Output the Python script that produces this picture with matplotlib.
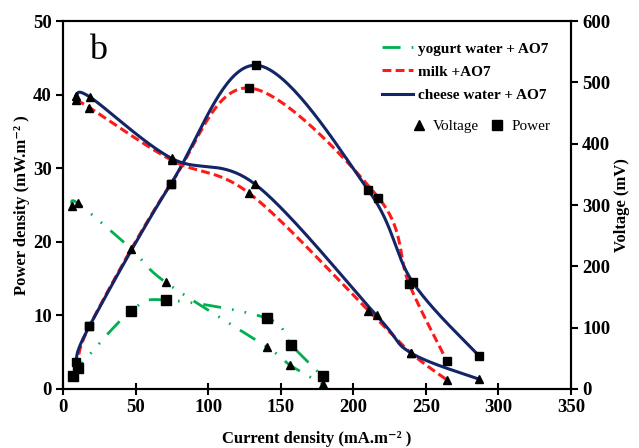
#!/usr/bin/env python3
"""Power density and voltage vs current density for the three MFC substrates."""
import matplotlib
matplotlib.use('Agg')
import matplotlib.pyplot as plt
import numpy as np
from matplotlib.lines import Line2D

# power density curves (mW.m-2) vs current density (mA.m-2)
yog_pow_x = [6.7, 10.5, 46.8, 71.0, 140.8, 157.1, 178.9]
yog_pow_y = [1.8, 2.9, 10.6, 12.1, 9.6, 6.0, 1.7]
milk_pow_x = [10.5, 18.1, 74.4, 128.4, 217.3, 238.4, 264.4]
milk_pow_y = [2.9, 8.5, 27.9, 40.9, 26.0, 14.3, 3.85]
chz_pow_x = [8.7, 18.1, 74.4, 132.9, 210.4, 241.0, 286.6]
chz_pow_y = [3.7, 8.5, 27.9, 44.0, 27.0, 14.5, 4.5]

# voltage curves (mV)
yog_v_x = [6.4, 10.1, 46.8, 70.7, 140.8, 156.4, 178.9]
yog_v_y = [298, 303, 229, 174, 68, 39, 8]
milk_v_x = [9.0, 18.1, 74.9, 128.4, 210.4, 239.6, 264.4]
milk_v_y = [471, 459, 373, 319, 128, 59, 15]
chz_v_x = [9.0, 18.6, 74.9, 132.3, 216.0, 239.6, 286.6]
chz_v_y = [478, 476, 376, 334, 120, 59, 16]

GREEN = '#00B050'
RED = '#FF1A1A'
NAVY = '#132566'
SERIF = ['Liberation Serif', 'DejaVu Serif']


def _smooth(x, y, n=40):
    # Excel-style smoothed line: Bezier through points with Catmull-Rom controls
    p = np.column_stack([x, y]).astype(float)
    p = np.vstack([p[0], p, p[-1]])
    segs = []
    t = np.linspace(0, 1, n)[:, None]
    for i in range(1, len(p) - 2):
        p0, p1, p2, p3 = p[i - 1], p[i], p[i + 1], p[i + 2]
        c1 = p1 + (p2 - p0) / 6
        c2 = p2 - (p3 - p1) / 6
        segs.append((1 - t) ** 3 * p1 + 3 * (1 - t) ** 2 * t * c1
                    + 3 * (1 - t) * t ** 2 * c2 + t ** 3 * p2)
    out = np.vstack(segs)
    return out[:, 0], out[:, 1]


plt.rcParams['font.family'] = SERIF
plt.rcParams['font.weight'] = 'bold'

fig = plt.figure(figsize=(6.39, 4.48), dpi=100)
ax = fig.add_axes([0.0986, 0.1317, 0.795, 0.8213])
ax2 = ax.twinx()

styles = {
    'yog': dict(color=GREEN, lw=2.0, ls=(0, (6.5, 4, 0.6, 4, 0.6, 4))),
    'milk': dict(color=RED, lw=2.2, ls=(0, (2.9, 1.4))),
    'chz': dict(color=NAVY, lw=2.2, ls='-'),
}

for key, px, py in (('yog', yog_pow_x, yog_pow_y),
                    ('milk', milk_pow_x, milk_pow_y),
                    ('chz', chz_pow_x, chz_pow_y)):
    sx, sy = _smooth(px, py)
    ax.plot(sx, sy, zorder=2, **styles[key])

for key, vx, vy in (('yog', yog_v_x, yog_v_y),
                    ('milk', milk_v_x, milk_v_y),
                    ('chz', chz_v_x, chz_v_y)):
    sx, sy = _smooth(vx, vy)
    ax2.plot(sx, sy, zorder=2, **styles[key])

ax.plot(yog_pow_x, yog_pow_y, ls='none', marker='s', ms=7.5, color='black', zorder=4)
ax.plot(milk_pow_x, milk_pow_y, ls='none', marker='s', ms=6, color='black', zorder=4)
ax.plot(chz_pow_x, chz_pow_y, ls='none', marker='s', ms=6, color='black', zorder=4)
for vx, vy in ((yog_v_x, yog_v_y), (milk_v_x, milk_v_y), (chz_v_x, chz_v_y)):
    ax2.plot(vx, vy, ls='none', marker='^', ms=6, color='black', zorder=4)

ax.set_xlim(0, 350)
ax.set_ylim(0, 50)
ax2.set_ylim(0, 600)
ax.set_xticks(np.arange(0, 351, 50))
ax.set_yticks(np.arange(0, 51, 10))
ax2.set_yticks(np.arange(0, 601, 100))

for a in (ax, ax2):
    for spine in a.spines.values():
        spine.set_linewidth(1.5)
    a.tick_params(direction='out', length=5, width=1.5, labelsize=13.5, pad=3)
ax.tick_params(axis='x', direction='inout', length=8)

ax.set_xlabel('Current density (mA.m\u207b\u00b2 )', fontsize=12, fontweight='bold', labelpad=11)
ax.set_ylabel('Power density (mW.m\u207b\u00b2 )', fontsize=12, fontweight='bold', labelpad=2)
ax2.set_ylabel('Voltage (mV)', fontsize=12, fontweight='bold', labelpad=3)

ax.text(24, 46, 'b', fontsize=26, fontweight='normal', ha='center', va='center')

h1 = [Line2D([], [], **styles['yog']),
      Line2D([], [], **styles['milk']),
      Line2D([], [], **styles['chz'])]
leg1 = ax2.legend(h1, ['yogurt water + AO7', 'milk +AO7', 'cheese water + AO7'],
                  loc='upper left', bbox_to_anchor=(0.628, 0.9435), frameon=False,
                  borderpad=0, borderaxespad=0, handlelength=2.0, handletextpad=0.33,
                  labelspacing=0.62, prop=dict(family=SERIF, weight='bold', size=11))
ax2.add_artist(leg1)
h2 = [Line2D([], [], ls='none', marker='^', ms=7, color='black'),
      Line2D([], [], ls='none', marker='s', ms=6.5, color='black')]
ax2.legend(h2, ['Voltage', 'Power'], loc='upper left', bbox_to_anchor=(0.686, 0.732),
           ncol=2, frameon=False, borderpad=0, borderaxespad=0, handlelength=1.0,
           handletextpad=0.4, columnspacing=0.7,
           prop=dict(family=SERIF, weight='normal', size=11))

fig.savefig('out.png', dpi=100)
